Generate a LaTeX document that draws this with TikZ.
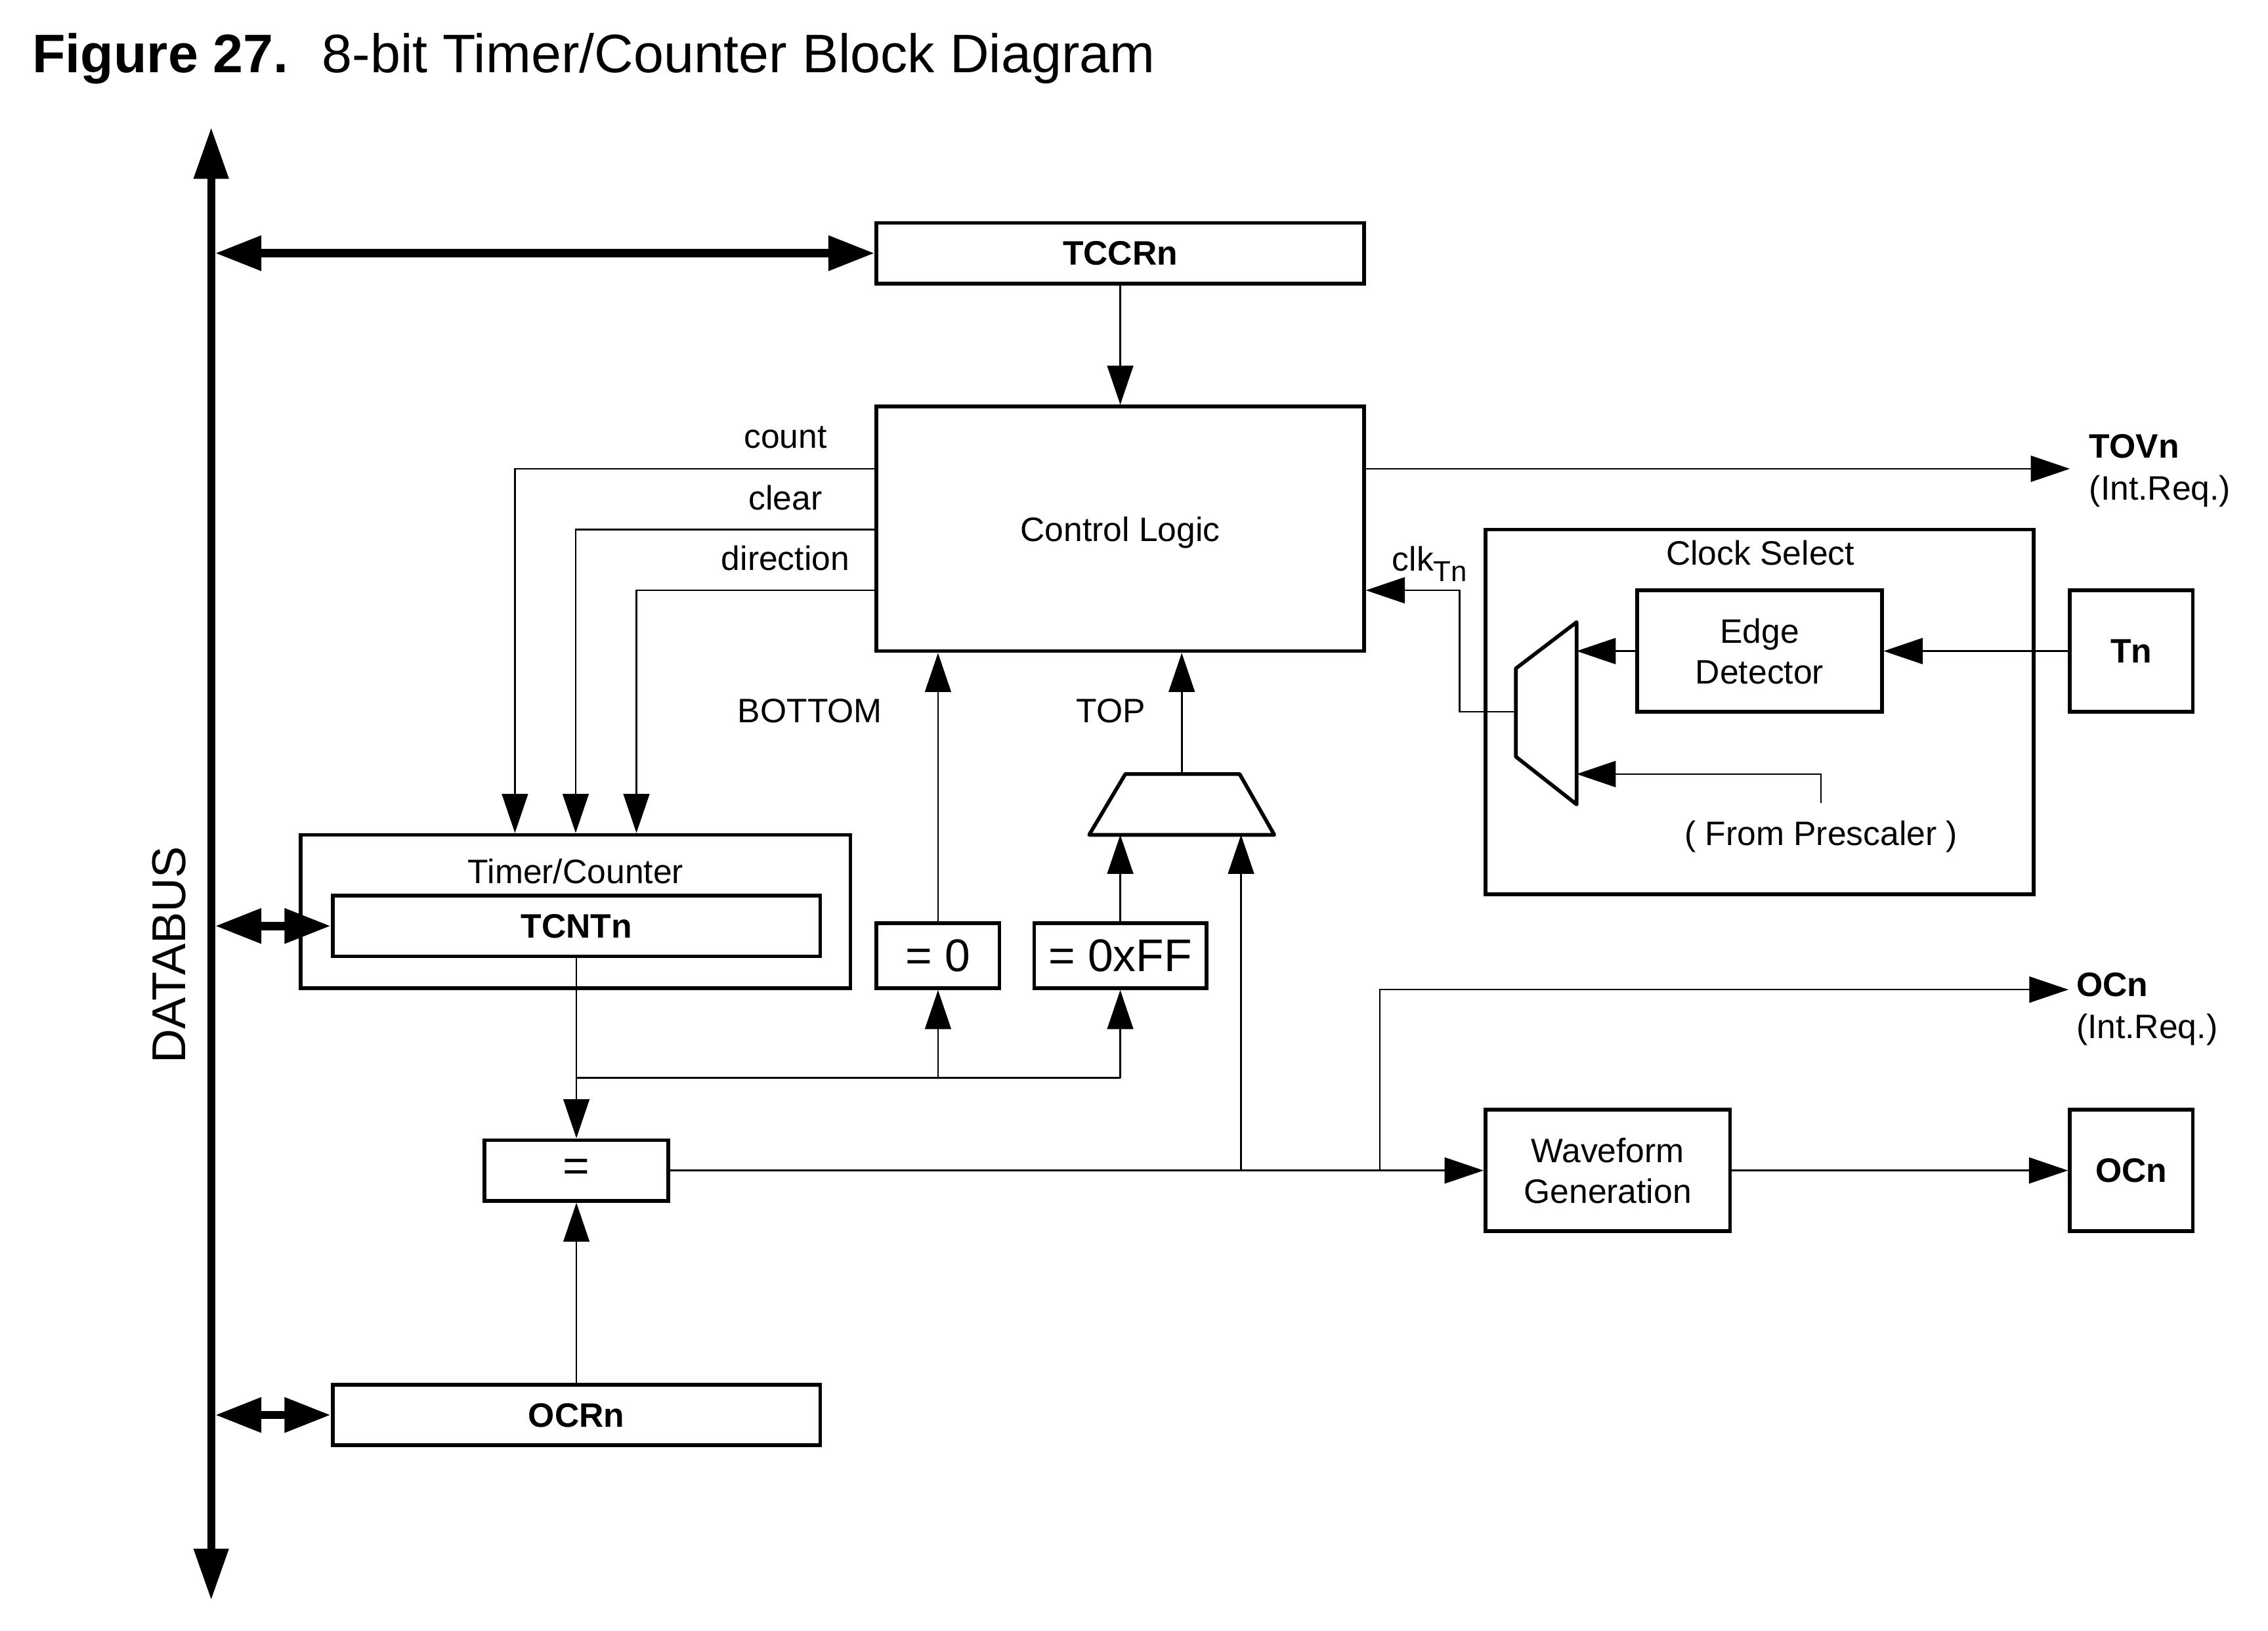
\documentclass[tikz,border=0pt]{standalone}
\usepackage{fontspec}
\setmainfont{Liberation Sans}
\usetikzlibrary{arrows.meta}

\begin{document}
\begin{tikzpicture}[x=0.015cm, y=-0.015cm,
        font=\fontsize{10}{12}\selectfont,
        box/.style={draw, line width=1.1pt, inner sep=0pt, text depth=0pt, align=center},
        lbl/.style={inner sep=0pt},
        wire/.style={line width=0.5pt},
        arr/.style={wire, -{Triangle[length=0.405cm, width=0.27cm]}},
        bus/.style={line width=2.5pt, {Triangle[length=0.48cm, width=0.345cm]}-{Triangle[length=0.48cm, width=0.345cm]}},
        big/.style={font=\fontsize{13.5}{16}\selectfont}]
            \useasboundingbox (0,0) rectangle (1568,1127);

            \node[lbl, anchor=base west, font=\fontsize{16}{19}\selectfont] (title) at (22,50)
                {\textbf{Figure 27.}\hspace{0.62em}8-bit Timer/Counter Block Diagram};

            % databus
            \coordinate (dtop) at (146,88);
            \coordinate (dbot) at (146,1106);
            \coordinate (dbus) at (148.7,0);
            \draw[line width=2.35pt, {Triangle[length=0.534cm, width=0.345cm]}-{Triangle[length=0.534cm, width=0.345cm]}] (dbot) -- (dtop);
            \node[rotate=90, font=\fontsize{14}{16}\selectfont] (dblabel) at (117,660) {DATABUS};

            % blocks
            \node[box, minimum width=5.055cm, minimum height=0.63cm] (tccr) at (774.5,175) {\bfseries TCCRn};
            \node[box, minimum width=5.055cm, minimum height=2.535cm] (ctrl) at (774.5,365.5) {Control Logic};
            \node[box, minimum width=5.7cm, minimum height=1.59cm] (tc) at (398,630) {};
            \node[lbl, anchor=base] (tclabel) at (398,610.5) {Timer/Counter};
            \node[box, minimum width=5.055cm, minimum height=0.63cm] (tcnt) at (398.5,640) {\bfseries TCNTn};
            \node[box, big, minimum width=1.275cm, minimum height=0.675cm] (eq0) at (648.5,660.5) {= 0};
            \node[box, big, minimum width=1.785cm, minimum height=0.675cm] (eqff) at (774.5,660.5) {= 0xFF};
            \node[box, big, minimum width=1.905cm, minimum height=0.63cm] (cmp) at (398.5,809) {=};
            \node[box, minimum width=5.055cm, minimum height=0.63cm] (ocr) at (398.5,978) {\bfseries OCRn};
            \node[box, minimum width=2.535cm, minimum height=1.26cm] (wg) at (1111.5,809) {Waveform\\Generation};
            \node[box, minimum width=1.275cm, minimum height=1.26cm] (ocn) at (1473.5,809) {\bfseries OCn};
            \node[box, minimum width=5.685cm, minimum height=3.78cm] (cs) at (1216.5,492) {};
            \node[lbl, anchor=base] (cslabel) at (1217,390.5) {Clock Select};
            \node[box, minimum width=2.535cm, minimum height=1.26cm] (ed) at (1216.5,450) {Edge\\Detector};
            \node[box, minimum width=1.275cm, minimum height=1.26cm] (tn) at (1473.5,450) {\bfseries Tn};

            % multiplexers
            \draw[line width=1.1pt, line join=round] (778,535) -- (857,535) -- (881,577) -- (753,577) -- cycle;
            \draw[line width=1.1pt, line join=round] (1090,430) -- (1048,462) -- (1048,523) -- (1090,556) -- cycle;
            \coordinate (mxt) at (817,535);
            \coordinate (tin) at (858,577);
            \coordinate (mxo) at (1048,492);
            \coordinate (mxr) at (1090,450);
            \coordinate (mxp) at (1090,535);

            % labels
            \node[lbl, anchor=base] (lcount) at (543,309.8) {count};
            \node[lbl, anchor=base] (lclear) at (543,352.2) {clear};
            \node[lbl, anchor=base] (ldir) at (543,394) {direction};
            \node[lbl, anchor=base] (lbot) at (560,499.5) {BOTTOM};
            \node[lbl, anchor=base] (ltop) at (768,499.5) {TOP};
            \node[lbl, anchor=base west] (lclk) at (962,394.5) {clk\raisebox{-0.32em}{\fontsize{8.5}{10}\selectfont Tn}};
            \node[lbl, anchor=base] (presc) at (1259,584.5) {( From Prescaler )};
            \node[lbl, anchor=base west, font=\bfseries] (tovn) at (1444,316.5) {TOVn};
            \node[lbl, anchor=base west] (tovreq) at (1444,345.5) {(Int.Req.)};
            \node[lbl, anchor=base west, font=\bfseries] (ocflag) at (1435,688.5) {OCn};
            \node[lbl, anchor=base west] (ocreq) at (1435,717.5) {(Int.Req.)};

            % bus connections
            \draw[bus] (dbus |- tccr.west) -- (tccr.west);
            \draw[bus] (dbus |- tcnt.west) -- (tcnt.west);
            \draw[bus] (dbus |- ocr.west) -- (ocr.west);

            % control signals
            \coordinate (cnt) at (356,324);
            \coordinate (clr) at (398,366);
            \coordinate (dir) at (440,408);
            \draw[arr] (tccr) -- (ctrl);
            \draw[arr] (cnt -| ctrl.west) -| (cnt |- tc.north);
            \draw[arr] (clr -| ctrl.west) -| (clr |- tc.north);
            \draw[arr] (dir -| ctrl.west) -| (dir |- tc.north);
            \coordinate (tov) at (1431,324);
            \draw[arr] (tov -| ctrl.east) -- (tov);

            % compare path
            \coordinate (br) at (398.5,745);
            \draw[arr] (tcnt) -- (cmp);
            \draw[arr] (ocr) -- (cmp);
            \draw[wire] (br) -- (br -| eqff);
            \draw[arr] (br -| eq0) -- (eq0);
            \draw[arr] (br -| eqff) -- (eqff);
            \draw[arr] (eq0) -- (eq0 |- ctrl.south);
            \draw[arr] (eqff) -- (eqff |- tin);
            \draw[arr] (mxt) -- (mxt |- ctrl.south);
            \draw[arr] (tin |- cmp.east) -- (tin);
            \draw[arr] (cmp) -- (wg);
            \draw[arr] (wg) -- (ocn);
            \coordinate (ocb) at (954,809);
            \coordinate (ocint) at (1430,684);
            \draw[arr] (ocb) |- (ocint);

            % clock select
            \coordinate (pin) at (1259,555);
            \draw[arr] (tn) -- (ed);
            \draw[arr] (ed) -- (mxr);
            \draw[arr] (pin) |- (mxp);
            \draw[arr] (mxo) -- (1009,492) |- (dir -| ctrl.east);
        \end{tikzpicture}
\end{document}
